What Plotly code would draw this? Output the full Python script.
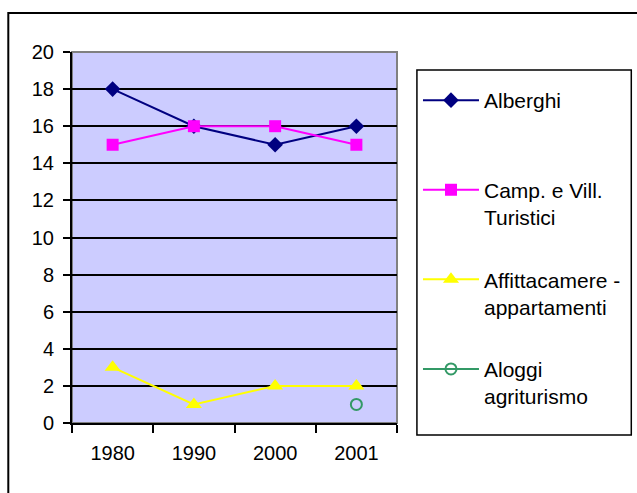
import plotly.graph_objects as go

# ---- data ----
anni = ['1980', '1990', '2000', '2001']
alberghi = [18, 16, 15, 16]
campeggi = [15, 16, 16, 15]
affittacamere = [3, 1, 2, 2]
agriturismo = [None, None, None, 1]

FONT = 'Liberation Sans, Arial, sans-serif'

fig = go.Figure()
fig.add_trace(go.Scatter(x=anni, y=alberghi, name='Alberghi<br> ', mode='lines+markers',
                         line=dict(color='#000080', width=2),
                         marker=dict(symbol='diamond', size=12, color='#000080'),
                         legendgroup='a'))
fig.add_trace(go.Scatter(x=anni, y=campeggi, name='Camp. e Vill.<br>Turistici', mode='lines+markers',
                         line=dict(color='#FF00FF', width=2),
                         marker=dict(symbol='square', size=12, color='#FF00FF'),
                         legendgroup='b'))
fig.add_trace(go.Scatter(x=anni, y=affittacamere, name='Affittacamere -<br>appartamenti', mode='lines+markers',
                         line=dict(color='#FFFF00', width=2),
                         marker=dict(symbol='triangle-up', size=14, color='#FFFF00'),
                         legendgroup='c'))
fig.add_trace(go.Scatter(x=anni, y=agriturismo, name='Aloggi<br>agriturismo', mode='lines+markers',
                         line=dict(color='#339966', width=2),
                         marker=dict(symbol='circle-open', size=11, color='#339966', line=dict(width=2)),
                         legendgroup='d'))

# plot area frame (grey top / right), legend box and outer chart border
fig.add_shape(type='rect', xref='paper', yref='paper', x0=0, x1=1, y0=0, y1=1,
              line=dict(color='#808080', width=2), layer='below')
fig.add_shape(type='rect', xref='paper', yref='paper', x0=1.0613, x1=1.7209, y0=-0.0323, y1=0.9515,
              line=dict(color='black', width=1.5))
fig.add_shape(type='rect', xref='paper', yref='paper', x0=-0.196, x1=1.9, y0=-0.3, y1=1.105,
              line=dict(color='black', width=2))

fig.update_layout(
    width=637, height=493,
    margin=dict(l=72, r=239, t=52, b=70),
    paper_bgcolor='white',
    plot_bgcolor='#CCCCFF',
    font=dict(family=FONT, size=20, color='black'),
    showlegend=True,
    legend=dict(
        x=1.0613, y=0.9245, xanchor='left', yanchor='top',
        borderwidth=0,
        bgcolor='rgba(0,0,0,0)',
        font=dict(family=FONT, size=21),
        tracegroupgap=32,
        valign='top',
        itemwidth=56,
    ),
    xaxis=dict(
        type='category', range=[-0.5, 3.5],
        tickson='boundaries', ticks='outside', ticklen=8, tickwidth=2, tickcolor='black',
        showline=True, linecolor='black', linewidth=2,
        showgrid=False, ticklabelstandoff=11,
    ),
    yaxis=dict(
        range=[0, 20], dtick=2,
        ticks='outside', ticklen=7, tickwidth=2, tickcolor='black',
        showline=True, linecolor='black', linewidth=2,
        gridcolor='black', gridwidth=1.5,
        zeroline=False, ticklabelstandoff=5,
    ),
)

fig.write_html("out.html", config={'displayModeBar': False},
               post_script="document.body.style.margin='0';")
